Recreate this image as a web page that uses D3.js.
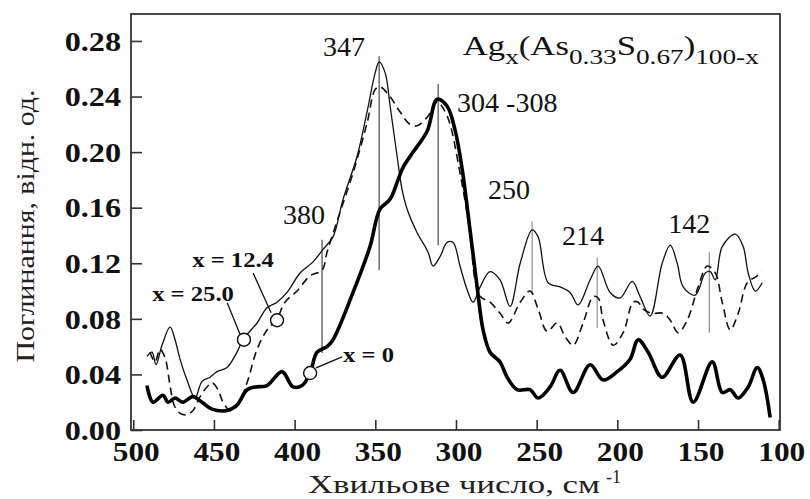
<!DOCTYPE html>
<html><head><meta charset="utf-8">
<script src="https://cdn.jsdelivr.net/npm/d3@7/dist/d3.min.js"></script>
<style>body{margin:0;background:#fff}svg{display:block}</style>
</head><body><svg id="c" width="810" height="499"></svg>
<script>
// ---- data ----
const xTicks = [500,450,400,350,300,250,200,150,100];
const yTicks = [0,0.04,0.08,0.12,0.16,0.20,0.24,0.28];
const yTickLabels = ["0.00","0.04","0.08","0.12","0.16","0.20","0.24","0.28"];

// x = 0 (thick)
const wn0 = [491.5,487.8,481.6,478.5,474.1,469.2,463.0,457.4,451.2,441.9,435.7,429.5,424.5,417.1,407.8,401.0,395.4,390.4,386.1,379.9,376.2,363.8,353.3,347.1,340.9,335.9,332.8,326.6,317.9,311.7,305.5,300.6,296.2,291.3,286.9,283.2,278.9,272.7,268.3,262.1,254.1,249.1,241.7,235.5,227.4,216.9,208.8,200.1,192.1,187.1,180.9,172.2,161.1,153.0,141.2,135.0,130.0,125.1,118.9,113.3,109.6,105.3];
const abs0 = [0.032,0.020,0.025,0.020,0.023,0.020,0.024,0.020,0.015,0.014,0.018,0.029,0.031,0.032,0.042,0.031,0.032,0.041,0.056,0.060,0.065,0.099,0.132,0.159,0.166,0.180,0.189,0.200,0.215,0.238,0.233,0.216,0.188,0.144,0.103,0.072,0.056,0.049,0.038,0.029,0.029,0.023,0.031,0.043,0.027,0.047,0.036,0.042,0.051,0.065,0.056,0.038,0.054,0.020,0.049,0.027,0.029,0.023,0.031,0.045,0.036,0.009];

// x = 25.0 (thin solid)
const wn25 = [491.5,488.4,485.9,482.2,477.2,474.1,471.0,466.7,461.7,457.4,452.4,448.1,441.9,435.7,432.0,423.3,417.1,410.9,404.7,396.6,388.6,382.4,376.2,370.0,361.3,355.1,350.1,347.6,343.9,340.8,336.5,333.4,330.3,324.1,317.3,314.2,309.8,305.5,301.8,297.5,293.1,289.4,285.0,278.9,272.7,266.5,260.2,252.8,249.1,242.9,235.5,229.3,224.3,216.9,211.9,204.5,198.3,190.8,185.9,179.7,172.2,167.2,162.9,159.2,151.8,145.5,142.4,139.3,135.0,126.9,122.0,118.9,114.5,110.2];
const abs25 = [0.053,0.056,0.047,0.061,0.074,0.065,0.051,0.036,0.023,0.035,0.038,0.042,0.045,0.056,0.065,0.077,0.088,0.092,0.099,0.113,0.121,0.130,0.139,0.166,0.197,0.229,0.257,0.265,0.257,0.233,0.197,0.173,0.159,0.142,0.128,0.118,0.125,0.135,0.135,0.118,0.101,0.092,0.103,0.114,0.108,0.089,0.120,0.144,0.139,0.106,0.103,0.099,0.090,0.108,0.118,0.099,0.095,0.107,0.096,0.082,0.120,0.133,0.120,0.103,0.097,0.113,0.114,0.108,0.132,0.141,0.132,0.113,0.100,0.106];

// x = 12.4 (dashed)
const wn12 = [489.6,486.5,483.4,480.3,477.2,474.7,471.0,466.7,463.0,458.6,454.3,451.2,447.5,444.4,440.0,435.7,429.5,423.3,417.1,410.9,406.0,398.5,390.4,383.0,379.9,371.8,363.8,355.1,350.1,347.1,340.9,334.7,328.5,324.1,317.9,311.7,305.5,297.5,291.3,288.2,285.0,278.9,272.7,267.7,260.2,254.1,249.1,243.5,237.3,232.3,227.4,221.2,215.0,211.9,208.8,202.6,196.4,190.2,187.1,184.0,178.4,171.6,167.2,162.3,156.7,149.9,144.3,139.3,135.0,130.0,125.1,119.5,114.5,110.2];
const abs12 = [0.056,0.049,0.058,0.052,0.032,0.018,0.012,0.011,0.014,0.024,0.031,0.034,0.029,0.020,0.014,0.017,0.034,0.058,0.072,0.080,0.092,0.100,0.111,0.115,0.128,0.157,0.185,0.221,0.245,0.247,0.240,0.229,0.220,0.219,0.225,0.236,0.226,0.185,0.141,0.108,0.096,0.092,0.084,0.077,0.092,0.100,0.087,0.071,0.077,0.067,0.061,0.077,0.096,0.095,0.079,0.061,0.070,0.092,0.092,0.087,0.084,0.084,0.079,0.070,0.079,0.103,0.118,0.113,0.092,0.072,0.084,0.106,0.110,0.114];

// peak marker lines: wavenumber, top and bottom absorbance
const peakWn  = [347.6, 311.0, 383.0, 252.8, 212.5, 143.0];
const peakTop = [0.269, 0.249, 0.137, 0.150, 0.124, 0.128];
const peakBot = [0.115, 0.133, 0.0555, 0.099, 0.0735, 0.070];
// peak labels
const peakLabels = ["347","304 -308","380","250","214","142"];
const peakLabelWn = [382.4, 299.3, 407.2, 280.1, 234.3, 168.5];
const peakLabelAbs = [0.269, 0.229, 0.148, 0.166, 0.133, 0.142];

// series markers (circles) and labels
const seriesNames = ["x = 25.0","x = 12.4","x = 0"];
const circWn  = [431.4, 410.9, 390.4];
const circAbs = [0.065, 0.079, 0.041];
const nameWn  = [488.3, 463.5, 370.0];
const nameAbs = [0.093, 0.117, 0.049];
const leadWn1 = [441.8, 425.7, 386.7];
const leadAbs1= [0.0916, 0.113, 0.0447];
const leadWn2 = [433.7, 414.6, 370.6];
const leadAbs2= [0.0685, 0.0844, 0.0526];

// ---- drawing ----
const svg = d3.select("#c");
const L=131, R=780, T=14, B=430;
const x = d3.scaleLinear().domain([501.4, 99.2]).range([L, R]);
const y = d3.scaleLinear().domain([0, 0.2994]).range([B, T]);
const serif = "'Liberation Serif','Times New Roman',serif";

// frame
svg.append("rect").attr("x",L).attr("y",T).attr("width",R-L).attr("height",B-T)
  .attr("fill","none").attr("stroke","#333").attr("stroke-width",1.8);

// ticks (inward)
svg.append("g").attr("transform",`translate(${L},0)`)
  .call(d3.axisLeft(y).tickValues(yTicks).tickSize(-11).tickFormat(""))
  .call(g=>g.select(".domain").remove())
  .selectAll("line").attr("stroke","#333").attr("stroke-width",1.6);
svg.append("g").attr("transform",`translate(0,${B})`)
  .call(d3.axisBottom(x).tickValues(xTicks).tickSize(-10).tickFormat(""))
  .call(g=>g.select(".domain").remove())
  .selectAll("line").attr("stroke","#333").attr("stroke-width",1.6);

// tick labels
svg.append("g").selectAll("text").data(yTicks).join("text")
  .attr("transform",d=>`translate(121,${y(d)}) scale(1.15,1)`)
  .attr("dy","0.35em").attr("text-anchor","end")
  .attr("font-family",serif).attr("font-weight","bold").attr("font-size",28)
  .attr("fill","#111").text((d,i)=>yTickLabels[i]);
svg.append("g").selectAll("text").data(xTicks).join("text")
  .attr("transform",d=>`translate(${x(d)+3},461) scale(1.12,1)`)
  .attr("text-anchor","middle")
  .attr("font-family",serif).attr("font-weight","bold").attr("font-size",28)
  .attr("fill","#111").text(d=>d);

// axis titles
svg.append("text").attr("transform","translate(34,226) rotate(-90)")
  .attr("text-anchor","middle").attr("font-family",serif).attr("font-size",25)
  .attr("textLength",273).attr("lengthAdjust","spacingAndGlyphs")
  .attr("fill","#222").text("Поглинання, відн. од.");
const xt = svg.append("text").attr("x",308).attr("y",493)
  .attr("font-family",serif).attr("font-size",25).attr("fill","#222");
xt.append("tspan").attr("textLength",292).attr("lengthAdjust","spacingAndGlyphs").text("Хвильове число, см");
xt.append("tspan").attr("dx",6).attr("dy",-10).attr("font-size",18).text("-1");

// peak lines
svg.append("g").selectAll("line").data(peakWn).join("line")
  .attr("x1",d=>x(d)).attr("x2",d=>x(d))
  .attr("y1",(d,i)=>y(peakTop[i])).attr("y2",(d,i)=>y(peakBot[i]))
  .attr("stroke",(d,i)=>i<3?"#777":"#888").attr("stroke-width",(d,i)=>i<3?1.6:1.1);

// curves
const line = d3.line().x(d=>x(d[0])).y(d=>y(d[1])).curve(d3.curveCatmullRom.alpha(0.5));
const zip = (a,b)=>a.map((v,i)=>[v,b[i]]);
svg.append("path").attr("d",line(zip(wn12,abs12))).attr("fill","none")
  .attr("stroke","#111").attr("stroke-width",1.6).attr("stroke-dasharray","8,5");
svg.append("path").attr("d",line(zip(wn25,abs25))).attr("fill","none")
  .attr("stroke","#111").attr("stroke-width",1.3);
svg.append("path").attr("d",line(zip(wn0,abs0))).attr("fill","none")
  .attr("stroke","#000").attr("stroke-width",3.6).attr("stroke-linejoin","round");

// peak labels
svg.append("g").selectAll("text").data(peakLabels).join("text")
  .attr("x",(d,i)=>x(peakLabelWn[i])).attr("y",(d,i)=>y(peakLabelAbs[i]))
  .attr("font-family",serif).attr("font-size",28).attr("fill","#111").text(d=>d);

// leaders, circles, series names
svg.append("g").selectAll("line").data(seriesNames).join("line")
  .attr("x1",(d,i)=>x(leadWn1[i])).attr("y1",(d,i)=>y(leadAbs1[i]))
  .attr("x2",(d,i)=>x(leadWn2[i])).attr("y2",(d,i)=>y(leadAbs2[i]))
  .attr("stroke","#111").attr("stroke-width",1.3);
svg.append("g").selectAll("circle").data(seriesNames).join("circle")
  .attr("cx",(d,i)=>x(circWn[i])).attr("cy",(d,i)=>y(circAbs[i])).attr("r",6.5)
  .attr("fill","#fff").attr("stroke","#111").attr("stroke-width",1.4);
svg.append("g").selectAll("text").data(seriesNames).join("text")
  .attr("transform",(d,i)=>`translate(${x(nameWn[i])},${y(nameAbs[i])}) scale(1.12,1)`)
  .attr("font-family",serif).attr("font-weight","bold").attr("font-size",22)
  .attr("fill","#111").text(d=>d);

// formula
const f = svg.append("text").attr("transform",`translate(${x(295.8)},${y(0.270)}) scale(1.24,1)`)
  .attr("font-family",serif).attr("font-size",28).attr("fill","#111");
const parts = [["Ag",0],["x",1],["(As",0],["0.33",1],["S",0],["0.67",1],[")",0],["100-x",1]];
let prevSub = 0;
parts.forEach(([t,s])=>{
  const dy = (s?9:0) - (prevSub?9:0);
  f.append("tspan").attr("dy",dy).attr("font-size",s?22:28).text(t);
  prevSub = s;
});
</script></body></html>
